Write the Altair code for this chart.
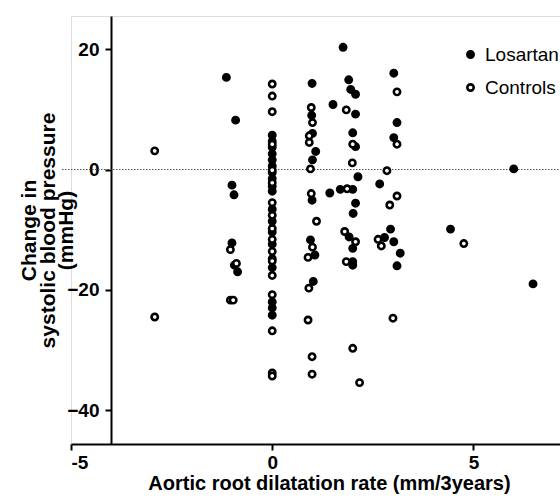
import altair as alt
import pandas as pd

# Losartan (filled)
losartan_x = [-1.14, -0.91, -1.0, -0.95, -1.0, -0.94, -0.86,
              0, 0, 0, 0, 0, 0, 0, 0, 0, 0, 0, 0, 0, 0, 0, 0, 0, 0, 0,
              0.99, 0.98, 1.0, 1.08, 1.0, 0.99, 0.95, 1.06, 1.02,
              1.43, 1.51, 1.76, 1.9, 1.95, 2.07, 2.07, 2.0, 2.07, 2.13, 1.69, 2.0,
              2.67, 2.07, 2.01, 1.91, 2.0, 2.0, 2.0, 2.79, 2.94, 3.02, 3.18, 3.1,
              3.02, 3.1, 3.02, 4.43, 6.0, 6.48]
losartan_y = [15.3, 8.2, -2.6, -4.2, -12.2, -15.9, -17.0,
              5.7, 4.7, 3.7, 2.6, 1.6, 0.6, -0.5, -1.5, -2.8, -3.6, -6.6, -8.6, -10.4, -12.4, -14.8, -16.3, -22.0, -23.0, -24.2,
              14.3, 9.0, 6.0, 3.0, 1.6, -5.1, -11.7, -14.2, -18.6,
              -3.9, 10.8, 20.3, 14.9, 13.3, 12.5, 9.2, 6.1, 3.8, -1.2, -3.3, -3.3,
              -2.4, -5.6, -7.3, -11.2, -13.1, -15.3, -15.9, -11.3, -9.9, -12.0, -13.9, -16.0,
              16.0, 7.8, 5.3, -9.9, 0.1, -19.0]

# Controls (open)
controls_x = [-2.92, -2.92, -1.04, -0.89, -1.04, -0.97,
              0, 0, 0, 0, 0, 0, 0, 0, 0, 0, 0, 0, 0, 0, 0, 0, 0,
              0.97, 1.0, 0.92, 0.92, 0.95, 0.97, 1.1, 1.0, 0.89, 0.91, 0.89, 0.99, 0.99,
              1.84, 2.0, 1.99, 1.86, 1.8, 2.07, 1.84, 2.0, 2.17,
              2.85, 3.1, 3.1, 3.1, 2.92, 2.63, 2.71, 3.0, 4.76]
controls_y = [3.1, -24.5, -13.3, -15.6, -21.7, -21.7,
              14.2, 12.2, 9.6, 4.2, -0.1, -2.2, -5.5, -7.6, -9.8, -11.6, -13.6, -15.2, -17.6, -20.8, -26.8, -33.8, -34.3,
              10.3, 7.8, 5.6, 4.5, 0.1, -4.0, -8.6, -12.9, -14.6, -19.7, -25.0, -31.1, -34.0,
              9.9, 4.2, 1.1, -3.2, -10.3, -12.0, -15.3, -29.7, -35.4,
              -0.2, 12.9, 4.2, -4.4, -5.9, -11.6, -12.7, -24.7, -12.3]

groups = ["Losartan", "Controls"]
x_ticks = [-5, 0, 5]
y_ticks = [-40, -20, 0, 20]
zero_line = [0]

df = pd.DataFrame({
    "x": losartan_x + controls_x,
    "y": losartan_y + controls_y,
    "group": [groups[0]] * len(losartan_x) + [groups[1]] * len(controls_x),
})

FONT = "Liberation Sans"
W, H = 489, 428

xscale = alt.Scale(domain=[-5, 7.15], nice=False, zero=False)
yscale = alt.Scale(domain=[-45.6, 25.5], nice=False, zero=False)

points = alt.Chart(df).mark_point(
    filled=True, stroke="black", strokeWidth=2.6, size=40, opacity=1
).encode(
    x=alt.X("x:Q", scale=xscale, axis=alt.Axis(
        values=x_ticks, title="Aortic root dilatation rate (mm/3years)",
        grid=False, domainColor="black", domainWidth=2, tickColor="black", tickWidth=2,
        tickSize=6, labelFont=FONT, labelFontSize=19, labelFontWeight="bold", labelColor="black",
        labelPadding=3, labelExpr="replace(datum.label, '\u2212', '-')",
        titleFont=FONT, titleFontSize=20, titleFontWeight="bold", titleColor="black",
        titlePadding=1, titleX=258)),
    y=alt.Y("y:Q", scale=yscale, axis=alt.Axis(
        values=y_ticks, title=["Change in", "systolic blood pressure", "(mmHg)"],
        offset=-40, grid=False, domainColor="black", domainWidth=2, tickColor="black",
        tickWidth=2, tickSize=6, labelFont=FONT, labelFontSize=19, labelFontWeight="bold",
        labelColor="black", labelPadding=6,
        titleFont=FONT, titleFontSize=21, titleFontWeight="bold", titleColor="black",
        titleLineHeight=18.5, titlePadding=-10)),
    fill=alt.Fill("group:N", scale=alt.Scale(domain=groups, range=["black", "white"]),
                  legend=alt.Legend(title=None, orient="none", legendX=390, legendY=29,
                                    labelFont=FONT, labelFontSize=19, labelColor="black",
                                    symbolType="circle", symbolSize=40, symbolStrokeColor="black",
                                    symbolStrokeWidth=2.6, symbolOpacity=1, labelOffset=5,
                                    rowPadding=13, padding=0)),
)

zero = alt.Chart(pd.DataFrame({"y": zero_line})).mark_rule(
    color="#555555", strokeWidth=1.2, strokeDash=[1.5, 1.5]
).encode(y=alt.Y("y:Q", scale=yscale), x=alt.value(-9), x2=alt.value(W))

chart = alt.layer(zero, points).properties(
    width=W, height=H,
    autosize=alt.AutoSizeParams(type="none"),
    padding={"left": 71, "top": 16, "right": 0, "bottom": 54},
).configure_view(stroke=None).configure(background="white")

chart.save("out.html", embed_options={"renderer": "svg", "actions": False})
